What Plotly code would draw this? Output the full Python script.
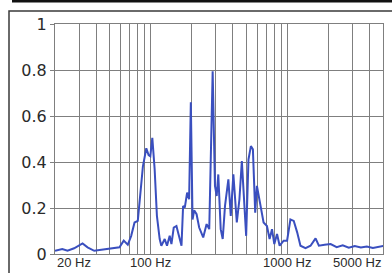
import math
import plotly.graph_objects as go

# Spectrum (frequency in Hz, relative amplitude)
freq_hz = [20.0, 22.6, 24.7, 27.6, 31.8, 34.6, 38.7, 44.6, 51.4, 59.2,
           63.6, 68.1, 72.1, 76.3, 80.6, 83.0, 87.8, 93.0, 96.7, 99.5,
           102.9, 107.0, 111.2, 116.5, 119.8, 126.8, 131.8, 137.9, 142.0, 147.6,
           154.5, 158.8, 168.2, 172.8, 177.8, 184.9, 191.2, 196.8, 202.6, 208.2,
           216.8, 226.5, 242.4, 256.7, 268.3, 284.2, 295.5, 304.1, 312.5, 325.4,
           336.6, 349.9, 370.2, 385.5, 402.8, 426.7, 446.0, 464.5, 482.9, 499.5,
           519.4, 540.9, 559.5, 581.7, 598.7, 633.2, 669.6, 709.0, 741.1, 771.8,
           802.4, 840.0, 877.8, 939.3, 995.0, 1052, 1113, 1179, 1246, 1357,
           1476, 1607, 1699, 1871, 2071, 2293, 2538, 2810, 3110, 3443,
           3810, 4217, 4668, 5080]
amplitude = [0.014, 0.022, 0.014, 0.025, 0.046, 0.029, 0.014, 0.019, 0.026, 0.029,
             0.058, 0.040, 0.079, 0.137, 0.144, 0.238, 0.380, 0.460, 0.430, 0.425,
             0.505, 0.370, 0.166, 0.065, 0.036, 0.065, 0.036, 0.079, 0.043, 0.115,
             0.122, 0.094, 0.036, 0.209, 0.202, 0.267, 0.238, 0.660, 0.150, 0.190,
             0.173, 0.115, 0.072, 0.130, 0.108, 0.794, 0.296, 0.252, 0.346, 0.108,
             0.065, 0.209, 0.325, 0.166, 0.346, 0.137, 0.238, 0.404, 0.238, 0.079,
             0.411, 0.469, 0.455, 0.180, 0.296, 0.209, 0.137, 0.122, 0.065, 0.108,
             0.043, 0.087, 0.036, 0.058, 0.058, 0.150, 0.144, 0.094, 0.036, 0.025,
             0.036, 0.068, 0.036, 0.040, 0.043, 0.030, 0.038, 0.027, 0.035, 0.028,
             0.033, 0.026, 0.031, 0.036]

grid_freqs = [20, 30, 40, 50, 60, 70, 80, 90, 100, 200, 300, 400, 500, 600, 700,
              800, 900, 1000, 2000, 3000, 4000, 5000]
x_label_freqs = [20, 100, 1000, 5000]
x_label_texts = ["20 Hz", "100 Hz", "1000 Hz", "5000 Hz"]
x_label_anchor = ["left", "center", "center", "right"]
y_tick_vals = [0, 0.2, 0.4, 0.6, 0.8, 1]
y_tick_texts = ["0", "0.2", "0.4", "0.6", "0.8", "1"]

W, H = 392, 273
ml, mr, mt, mb = 55, 9, 24, 19
pw, ph = W - ml - mr, H - mt - mb

def px_x(p):
    return (p - ml) / pw

def px_y(p):
    return (H - mb - p) / ph

fig = go.Figure()
fig.add_trace(go.Scatter(x=freq_hz, y=amplitude, mode="lines",
                         line=dict(color="#3a4fbf", width=2), hoverinfo="skip"))

fig.update_layout(
    width=W, height=H,
    margin=dict(l=ml, r=mr, t=mt, b=mb, autoexpand=False),
    paper_bgcolor="white", plot_bgcolor="white",
    showlegend=False,
    font=dict(family="Liberation Sans, Arial, sans-serif", color="#2a2a2a"),
)
fig.update_xaxes(type="log", range=[math.log10(20), math.log10(5000)],
                 tickvals=grid_freqs, showticklabels=False, ticks="",
                 showgrid=True, gridcolor="#7f7f7f", gridwidth=1,
                 showline=True, mirror=True, linecolor="#7f7f7f", linewidth=1,
                 zeroline=False)
fig.update_yaxes(range=[0, 1], tickvals=y_tick_vals, ticktext=y_tick_texts,
                 ticks="outside", ticklen=4, tickcolor="#7f7f7f",
                 tickfont=dict(family="DejaVu Sans, sans-serif", size=16, color="#2a2a2a"),
                 showgrid=True, gridcolor="#7f7f7f", gridwidth=1,
                 showline=True, mirror=True, linecolor="#7f7f7f", linewidth=1,
                 zeroline=False)

for f, t, a in zip(x_label_freqs, x_label_texts, x_label_anchor):
    fig.add_annotation(x=math.log10(f), xref="x", y=0, yref="paper",
                       text=t, showarrow=False, xanchor=a, yanchor="top",
                       yshift=1, font=dict(size=13, color="#2a2a2a"))

# outer frame and top black bar
fig.add_shape(type="rect", xref="paper", yref="paper",
              x0=px_x(9), x1=px_x(400), y0=px_y(290), y1=px_y(11),
              line=dict(color="#3a3a3a", width=1.5), fillcolor="rgba(0,0,0,0)",
              layer="below")
fig.add_shape(type="rect", xref="paper", yref="paper",
              x0=px_x(12), x1=px_x(392), y0=px_y(2.5), y1=px_y(-1),
              line=dict(width=0), fillcolor="#111111")

fig.write_html("out.html", config={"displayModeBar": False},
               post_script="document.body.style.margin='0';document.body.style.overflow='hidden';")
